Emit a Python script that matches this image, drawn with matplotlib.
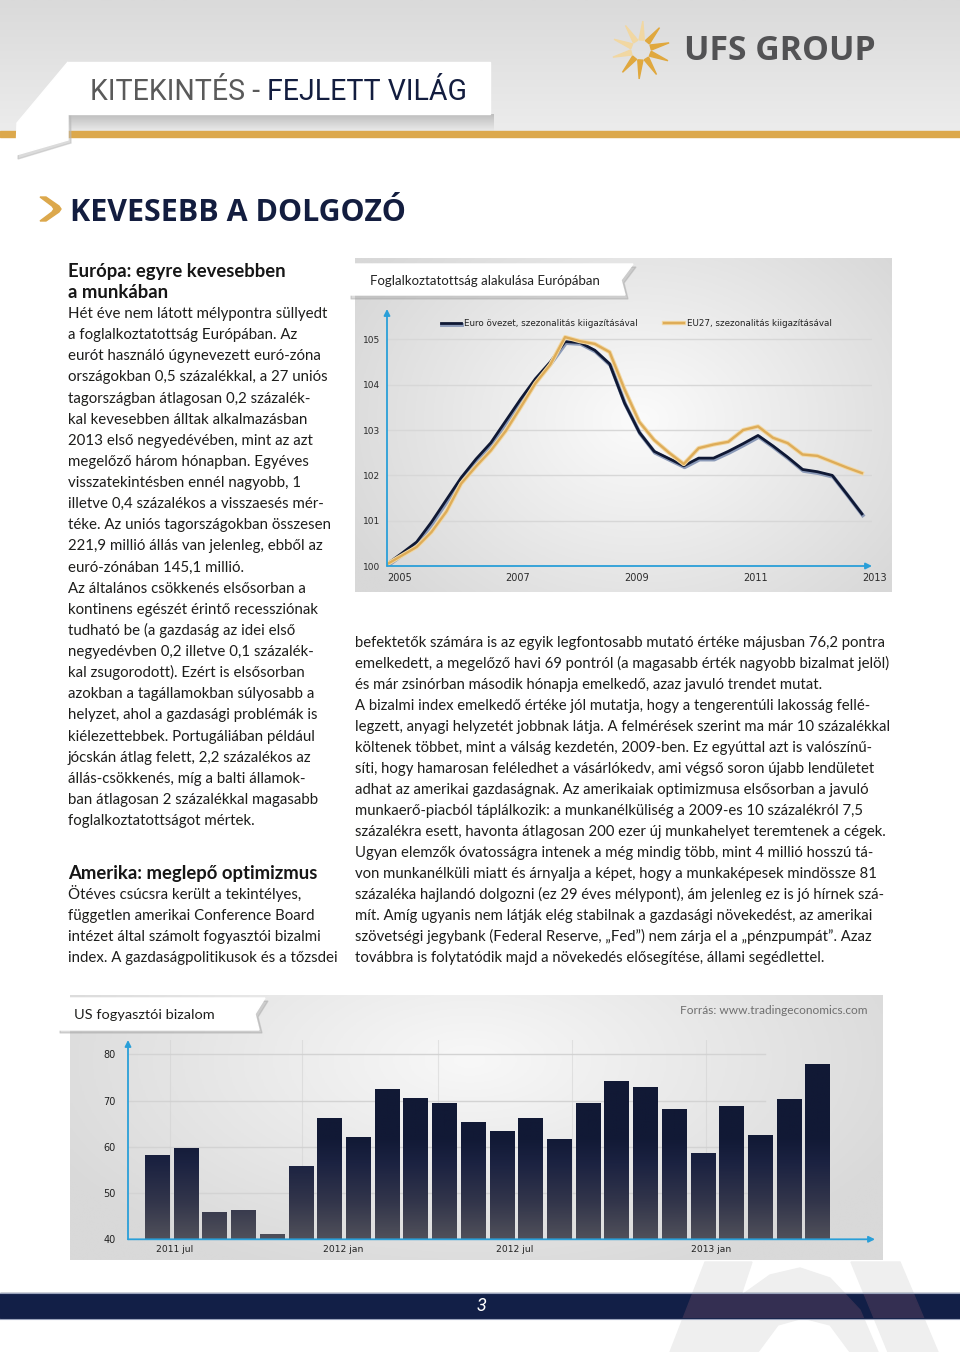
import numpy as np
import pandas as pd
import matplotlib
matplotlib.use('Agg')
import matplotlib.pyplot as plt
import matplotlib.patheffects as pe
from matplotlib.colors import LinearSegmentedColormap
from matplotlib.patches import Polygon, Rectangle

# --- adatok ---
quarters = pd.period_range('2005Q1', '2013Q1', freq='Q')
euro_zone = [100.04, 100.28, 100.53, 100.97, 101.46, 101.95, 102.36, 102.72, 103.20,
             103.68, 104.13, 104.50, 104.95, 104.93, 104.76, 104.46, 103.60, 102.95,
             102.53, 102.37, 102.21, 102.38, 102.38, 102.53, 102.70, 102.88, 102.65,
             102.40, 102.13, 102.08, 102.00, 101.58, 101.15]
eu27 = [100.04, 100.23, 100.42, 100.75, 101.20, 101.82, 102.20, 102.55, 102.98,
        103.50, 104.03, 104.44, 105.05, 104.96, 104.90, 104.72, 103.90, 103.18,
        102.78, 102.50, 102.25, 102.60, 102.68, 102.74, 103.00, 103.08, 102.83,
        102.71, 102.46, 102.43, 102.30, 102.17, 102.05]
line_labels = ['Euro övezet, szezonalitás kiigazításával', 'EU27, szezonalitás kiigazításával']
line_xticks = [2005, 2007, 2009, 2011, 2013]
line_yticks = [100, 101, 102, 103, 104, 105]

conf_months = pd.period_range('2011-06', '2013-05', freq='M')
us_confidence = [58.2, 59.8, 45.8, 46.3, 41.2, 55.8, 66.2, 62.2, 72.6, 70.6, 69.5, 65.3,
                 63.4, 66.3, 61.7, 69.5, 74.3, 72.9, 68.1, 58.7, 68.8, 62.5, 70.3, 77.9]
bar_yticks = [40, 50, 60, 70, 80]
bar_xlabels = ['2011 jul', '2012 jan', '2012 jul', '2013 jan']
bar_xlabel_pos = [0.6, 6.5, 12.45, 19.3]

left_lines1 = [
    'Hét éve nem látott mélypontra süllyedt',
    'a foglalkoztatottság Európában. Az',
    'eurót használó úgynevezett euró-zóna',
    'országokban 0,5 százalékkal, a 27 uniós',
    'tagországban átlagosan 0,2 százalék-',
    'kal kevesebben álltak alkalmazásban',
    '2013 első negyedévében, mint az azt',
    'megelőző három hónapban. Egyéves',
    'visszatekintésben ennél nagyobb, 1',
    'illetve 0,4 százalékos a visszaesés mér-',
    'téke. Az uniós tagországokban összesen',
    '221,9 millió állás van jelenleg, ebből az',
    'euró-zónában 145,1 millió.',
    'Az általános csökkenés elsősorban a',
    'kontinens egészét érintő recessziónak',
    'tudható be (a gazdaság az idei első',
    'negyedévben 0,2 illetve 0,1 százalék-',
    'kal zsugorodott). Ezért is elsősorban',
    'azokban a tagállamokban súlyosabb a',
    'helyzet, ahol a gazdasági problémák is',
    'kiélezettebbek. Portugáliában például',
    'jócskán átlag felett, 2,2 százalékos az',
    'állás-csökkenés, míg a balti államok-',
    'ban átlagosan 2 százalékkal magasabb',
    'foglalkoztatottságot mértek.',
]
left_lines2 = [
    'Ötéves csúcsra került a tekintélyes,',
    'független amerikai Conference Board',
    'intézet által számolt fogyasztói bizalmi',
    'index. A gazdaságpolitikusok és a tőzsdei',
]
right_lines = [
    'befektetők számára is az egyik legfontosabb mutató értéke májusban 76,2 pontra',
    'emelkedett, a megelőző havi 69 pontról (a magasabb érték nagyobb bizalmat jelöl)',
    'és már zsinórban második hónapja emelkedő, azaz javuló trendet mutat.',
    'A bizalmi index emelkedő értéke jól mutatja, hogy a tengerentúli lakosság fellé-',
    'legzett, anyagi helyzetét jobbnak látja. A felmérések szerint ma már 10 százalékkal',
    'költenek többet, mint a válság kezdetén, 2009-ben. Ez egyúttal azt is valószínű-',
    'síti, hogy hamarosan feléledhet a vásárlókedv, ami végső soron újabb lendületet',
    'adhat az amerikai gazdaságnak. Az amerikaiak optimizmusa elsősorban a javuló',
    'munkaerő-piacból táplálkozik: a munkanélküliség a 2009-es 10 százalékról 7,5',
    'százalékra esett, havonta átlagosan 200 ezer új munkahelyet teremtenek a cégek.',
    'Ugyan elemzők óvatosságra intenek a még mindig több, mint 4 millió hosszú tá-',
    'von munkanélküli miatt és árnyalja a képet, hogy a munkaképesek mindössze 81',
    'százaléka hajlandó dolgozni (ez 29 éves mélypont), ám jelenleg ez is jó hírnek szá-',
    'mít. Amíg ugyanis nem látják elég stabilnak a gazdasági növekedést, az amerikai',
    'szövetségi jegybank (Federal Reserve, „Fed”) nem zárja el a „pénzpumpát”. Azaz',
    'továbbra is folytatódik majd a növekedés elősegítése, állami segédlettel.',
]

NAVY = '#131d3f'
GOLD = '#dca84c'
BLUE = '#2a9fd8'
BODY = ['Lato', 'DejaVu Sans']

fig = plt.figure(figsize=(9.6, 13.52), dpi=100)
page = fig.add_axes([0, 0, 1, 1])
page.set_xlim(0, 960)
page.set_ylim(1352, 0)
page.axis('off')
R = fig.canvas.get_renderer()


def width_of(s, **kw):
    t = page.text(0, 0, s, **kw)
    w = t.get_window_extent(renderer=R).width
    t.remove()
    return w


def fit(s, target, **kw):
    return 10 * target / width_of(s, fontsize=10, **kw)


def vgrad(x0, y0, x1, y1, c0, c1, z=0):
    cm = LinearSegmentedColormap.from_list('g', [c0, c1])
    page.imshow(np.linspace(0, 1, 128).reshape(-1, 1), extent=[x0, x1, y1, y0], origin='upper',
                cmap=cm, aspect='auto', interpolation='bilinear', zorder=z)


def radial(x0, y0, x1, y1, cx, cy, rx, ry, c0, c1, z=0):
    X, Y = np.meshgrid(np.linspace(x0, x1, 240), np.linspace(y0, y1, 240))
    g = np.clip(np.hypot((X - cx) / rx, (Y - cy) / ry), 0, 1)
    cm = LinearSegmentedColormap.from_list('r', [c0, c1])
    page.imshow(g, extent=[x0, x1, y1, y0], origin='upper', cmap=cm, vmin=0, vmax=1,
                aspect='auto', interpolation='bilinear', zorder=z)


def ax_px(x0, y0, x1, y1):
    a = fig.add_axes([x0 / 960, 1 - y1 / 1352, (x1 - x0) / 960, (y1 - y0) / 1352])
    a.patch.set_visible(False)
    return a


# --- fejléc ---
vgrad(0, 0, 960, 131, '#dadada', '#ececec')
vgrad(68, 114, 494, 131, '#bdbdbd', '#eaeaea', z=1)
page.add_patch(Rectangle((0, 131), 960, 6, color=GOLD, zorder=2))
page.add_patch(Polygon([(70, 64), (19, 126), (18, 159), (71, 143)], color='#b8b8b8', alpha=0.5, zorder=2))
page.add_patch(Polygon([(68, 62), (17, 123), (16, 155), (68, 140)], color='white', zorder=3))
page.add_patch(Rectangle((68, 62), 422, 52, color='white', zorder=3))

hdr_font = ['Liberation Sans Narrow', 'Roboto']
hs = fit('KITEKINTÉS - FEJLETT VILÁG', 376, family=hdr_font)
p1 = 'KITEKINTÉS - '
page.text(90, 99.5, p1, fontsize=hs, family=hdr_font, color='#5a5a5a', va='baseline', zorder=4)
page.text(90 + width_of(p1, fontsize=hs, family=hdr_font), 99.5, 'FEJLETT VILÁG', fontsize=hs,
          family=hdr_font, color=NAVY, va='baseline', zorder=4)

# logó
cx, cy = 641, 50
for i, ang in enumerate(np.linspace(0, 2 * np.pi, 10, endpoint=False) + 0.25):
    d = np.array([np.cos(ang), -np.sin(ang)])
    n = np.array([-d[1], d[0]])
    base = np.array([cx, cy]) + d * 10
    tip = np.array([cx, cy]) + d * 29
    col = '#f1d7a2' if (np.cos(ang) < 0.2 and -np.sin(ang) < 0.3) else '#e0a83e'
    page.add_patch(Polygon([base + n * 2.6, tip, base - n * 2.6], color=col, zorder=3))
us = fit('UFS GROUP', 191, family='Open Sans', weight='bold')
page.text(684, 59.5, 'UFS GROUP', fontsize=us, family='Open Sans', weight='bold', color='#525254',
          va='baseline', zorder=4)

# cím
page.add_patch(Polygon([(40, 197), (46, 197), (59, 206), (61, 209), (59, 212), (46, 221), (40, 221),
                        (52, 212), (54, 209), (52, 206)], color=GOLD, zorder=3))
ts = fit('KEVESEBB A DOLGOZÓ', 336, family='Open Sans', weight='bold')
page.text(70, 221, 'KEVESEBB A DOLGOZÓ', fontsize=ts, family='Open Sans', weight='bold', color=NAVY,
          va='baseline')

# --- bal oldali hasáb ---
hd = fit('Európa: egyre kevesebben', 219, family=BODY, weight='bold')
page.text(68, 276.5, 'Európa: egyre kevesebben', fontsize=hd, family=BODY, weight='bold', color='#161616')
page.text(68, 297.5, 'a munkában', fontsize=hd, family=BODY, weight='bold', color='#161616')
bl = fit(left_lines1[0], 258, family=BODY)
for i, s in enumerate(left_lines1):
    page.text(68, 318 + i * 21.13, s, fontsize=bl, family=BODY, color='#1d1d1b')
page.text(68, 878.5, 'Amerika: meglepő optimizmus', fontsize=hd, family=BODY, weight='bold', color='#161616')
for i, s in enumerate(left_lines2):
    page.text(68, 899 + i * 21.0, s, fontsize=bl, family=BODY, color='#1d1d1b')

# --- jobb oldali hasáb ---
br = fit(right_lines[4], 536, family=BODY)
for i, s in enumerate(right_lines):
    page.text(355, 647 + i * 21.0, s, fontsize=br, family=BODY, color='#1d1d1b')

# --- vonaldiagram panel ---
radial(355, 258, 892, 592, 640, 420, 330, 260, '#fbfbfb', '#d8d8d8')
page.add_patch(Polygon([(351, 267), (636, 267), (624, 283), (628, 299), (351, 299)], color='#9a9a9a',
                       alpha=0.35, zorder=2))
page.add_patch(Polygon([(348, 264), (633, 264), (621, 280), (625, 295), (348, 295)], color='white', zorder=3))
tt = fit('Foglalkoztatottság alakulása Európában', 230, family=BODY)
page.text(370, 285, 'Foglalkoztatottság alakulása Európában', fontsize=tt, family=BODY, color='#222222',
          zorder=4)

ax = ax_px(387, 309, 872, 566)
xq = [p.year + (p.quarter - 1) / 4 for p in quarters]
ax.plot(xq, euro_zone, color='#0f1834', lw=2.0, solid_joinstyle='round', label=line_labels[0],
        path_effects=[pe.Stroke(linewidth=2.8, foreground='#8b9ab8', offset=(0.6, -1.0)), pe.Normal()])
ax.plot(xq, eu27, color='#deac58', lw=1.7, solid_joinstyle='round', label=line_labels[1],
        path_effects=[pe.Stroke(linewidth=3.1, foreground='#f2d9a6'), pe.Normal()])
ax.set_xlim(2005, 2013.17)
ax.set_ylim(100, 105.67)
ax.set_yticks(line_yticks)
ax.set_yticklabels([str(v) for v in line_yticks])
ax.set_xticks(line_xticks)
ax.set_xticklabels([str(v) for v in line_xticks], ha='left')
ax.tick_params(length=0, labelsize=7, colors='#2b2b2b')
ax.tick_params(axis='y', pad=5, labelsize=6.5)
ax.tick_params(axis='x', pad=5)
ax.grid(axis='y', color='#d7d7d7', lw=1)
ax.set_axisbelow(True)
for s in ax.spines.values():
    s.set_visible(False)
ax.annotate('', xy=(0, 1), xycoords='axes fraction', xytext=(0, 0),
            arrowprops=dict(arrowstyle='-|>', color=BLUE, lw=1.3, mutation_scale=9, shrinkA=0, shrinkB=0))
ax.annotate('', xy=(1, 0), xycoords='axes fraction', xytext=(0, 0),
            arrowprops=dict(arrowstyle='-|>', color=BLUE, lw=1.3, mutation_scale=9, shrinkA=0, shrinkB=0))
ax.legend(loc='center left', bbox_to_anchor=(0.111, 0.942), ncol=2, frameon=False, fontsize=6.3,
          handlelength=2.3, handletextpad=0.35, columnspacing=3.0, borderpad=0, borderaxespad=0,
          labelcolor='#222222')

# --- oszlopdiagram panel ---
radial(70, 995, 883, 1260, 470, 1060, 470, 230, '#f8f8f8', '#d9d9d9')
page.add_patch(Polygon([(60, 1001), (268, 1001), (258, 1017), (262, 1033), (60, 1033)], color='#9a9a9a',
                       alpha=0.35, zorder=2))
page.add_patch(Polygon([(57, 998), (265, 998), (255, 1014), (259, 1030), (57, 1030)], color='white', zorder=3))
bt = fit('US fogyasztói bizalom', 140, family=BODY)
page.text(74, 1019, 'US fogyasztói bizalom', fontsize=bt, family=BODY, color='#1d1d1b', zorder=4)
ft = fit('Forrás: www.tradingeconomics.com', 187, family=BODY)
page.text(868, 1014, 'Forrás: www.tradingeconomics.com', fontsize=ft, family=BODY, color='#6f6f6f',
          ha='right', zorder=4)

bx = ax_px(128, 1040, 875, 1239.3)
xi = np.arange(len(conf_months))
bars = bx.bar(xi, us_confidence, width=0.84, color=NAVY, edgecolor='none', zorder=2)
bar_cm = LinearSegmentedColormap.from_list('b', [(0, '#50505a'), (0.35, '#33364b'), (0.75, '#1b2241'),
                                                 (1, '#111935')])
for r in bars:
    top = r.get_y() + r.get_height()
    im = bx.imshow(np.linspace(40, top, 100).reshape(-1, 1), extent=[r.get_x(), r.get_x() + r.get_width(), 40, top],
                   origin='lower', cmap=bar_cm, vmin=40, vmax=62, aspect='auto', zorder=3)
    im.set_clip_path(r)
bx.set_xlim(-1.01, 25.0)
bx.set_ylim(40, 83.1)
for v in bar_yticks[1:]:
    bx.axhline(v, xmax=0.853, color='#d3d3d3', lw=1, zorder=1)
for xv in [0.45, 5.05, 9.8, 14.45, 19.1]:
    bx.axvline(xv, color='#d0d0d0', lw=0.8, alpha=0.5, zorder=1)
bx.set_yticks(bar_yticks)
bx.set_yticklabels([str(v) for v in bar_yticks])
bx.set_xticks(bar_xlabel_pos)
bx.set_xticklabels(bar_xlabels)
bx.tick_params(length=0, labelsize=7.0, colors='#222222')
bx.tick_params(axis='x', labelsize=6.6, pad=4)
bx.tick_params(axis='y', pad=9)
for s in bx.spines.values():
    s.set_visible(False)
bx.annotate('', xy=(0, 1), xycoords='axes fraction', xytext=(0, 0),
            arrowprops=dict(arrowstyle='-|>', color=BLUE, lw=1.3, mutation_scale=9, shrinkA=0, shrinkB=0))
bx.annotate('', xy=(1, 0), xycoords='axes fraction', xytext=(0, 0),
            arrowprops=dict(arrowstyle='-|>', color=BLUE, lw=1.3, mutation_scale=9, shrinkA=0, shrinkB=0))

# --- lábléc ---
shapes = [
    [(705, 1262), (752, 1262), (722, 1352), (670, 1352)],
    [(851, 1262), (900, 1262), (938, 1352), (888, 1352)],
    [(712, 1352), (735, 1300), (770, 1275), (800, 1268), (830, 1278), (860, 1310), (878, 1352),
     (850, 1352), (830, 1325), (803, 1318), (778, 1325), (758, 1352)],
]
for sh in shapes:
    page.add_patch(Polygon(sh, color='#efefef', zorder=1))
band = Rectangle((0, 1293), 960, 25, color='#121f47', zorder=2)
page.add_patch(band)
for sh in shapes:
    p = Polygon(sh, color='#342f52', zorder=3)
    page.add_patch(p)
    p.set_clip_path(band)
page.plot([0, 960], [1292.5, 1292.5], color='#9aa3bb', lw=0.8, zorder=3)
page.plot([0, 960], [1318.5, 1318.5], color='#9aa3bb', lw=0.8, zorder=3)
page.text(481, 1306, '3', fontsize=13, family=hdr_font, style='italic', color='white', ha='center',
          va='center', zorder=4)

page.set_xlim(0, 960)
page.set_ylim(1352, 0)
fig.savefig('out.png', dpi=100)
